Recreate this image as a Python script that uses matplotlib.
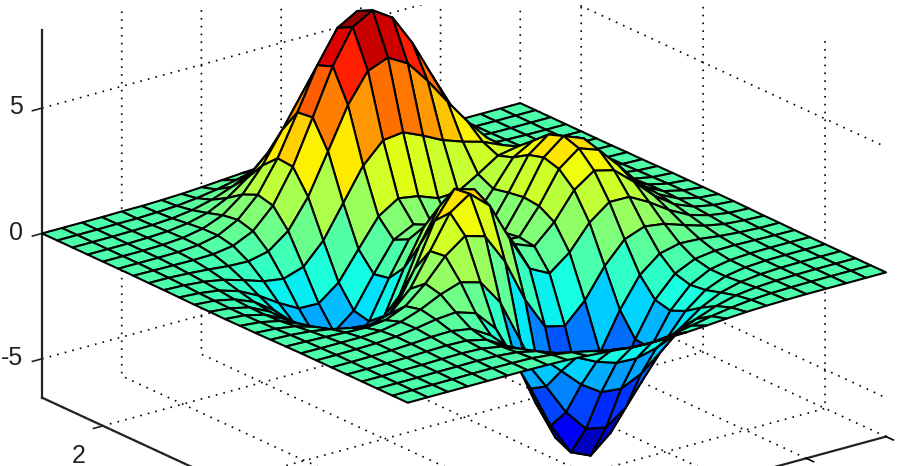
import matplotlib
matplotlib.use("Agg")
import numpy as np
import matplotlib.pyplot as plt
from matplotlib.patches import Rectangle

x_values = [-3, -2.75, -2.5, -2.25, -2, -1.75, -1.5, -1.25, -1, -0.75, -0.5, -0.25, 0,
            0.25, 0.5, 0.75, 1, 1.25, 1.5, 1.75, 2, 2.25, 2.5, 2.75, 3]
y_values = list(x_values)
x_ticks = [-3, -2, -1, 0, 1, 2, 3]
y_ticks = [-2, 0, 2]
z_ticks = [-5, 0, 5]
y_tick_labels = ["-2", "0", "2"]
z_tick_labels = ["-5", "0", "5"]
z_min, z_max = -6.55, 8.1
color_min, color_max = -6.3, 7.9

# one row per x value, one column per y value
heights = [
 [0,0,0,0,0,0,0,0,-.01,-.02,-.03,-.03,-.04,-.03,-.03,-.02,-.01,-.01,0,0,0,0,0,0,0],
 [0,0,0,0,0,0,0,-.01,-.03,-.05,-.08,-.10,-.11,-.11,-.09,-.07,-.04,-.02,-.01,0,0,0,0,0,0],
 [0,0,0,.01,.01,.01,.01,-.01,-.06,-.12,-.20,-.27,-.30,-.29,-.25,-.18,-.11,-.06,-.02,0,0,0,0,0,0],
 [0,0,.01,.01,.02,.03,.03,-.01,-.10,-.25,-.44,-.60,-.69,-.67,-.57,-.42,-.25,-.12,-.03,.01,.02,.02,.01,.01,0],
 [0,.01,.01,.03,.05,.07,.08,.03,-.13,-.42,-.80,-1.14,-1.33,-1.32,-1.12,-.82,-.48,-.20,-.01,.07,.08,.06,.03,.01,.01],
 [0,.01,.02,.04,.07,.13,.19,.17,-.04,-.51,-1.16,-1.78,-2.14,-2.16,-1.85,-1.33,-.74,-.23,.11,.24,.23,.16,.08,.04,.01],
 [0,0,0,.01,.05,.15,.33,.45,.30,-.28,-1.21,-2.16,-2.77,-2.87,-2.50,-1.76,-.86,-.05,.48,.65,.55,.36,.19,.08,.03],
 [-.01,-.02,-.07,-.12,-.13,.02,.40,.83,.98,.49,-.60,-1.83,-2.71,-2.98,-2.64,-1.78,-.60,.55,1.28,1.43,1.16,.74,.39,.17,.06],
 [-.03,-.10,-.24,-.44,-.59,-.46,.15,1.10,1.86,1.78,.80,-.56,-1.65,-2.15,-2.00,-1.16,.23,1.69,2.61,2.67,2.10,1.32,.69,.30,.11],
 [-.08,-.22,-.53,-.99,-1.45,-1.48,-.68,.88,2.45,3.09,2.49,1.23,.06,-.64,-.76,-.05,1.51,3.29,4.37,4.29,3.31,2.07,1.07,.47,.17],
 [-.14,-.39,-.92,-1.74,-2.64,-3.01,-2.18,-.14,2.22,3.63,3.55,2.56,1.48,.69,.39,1.04,2.79,4.92,6.19,5.96,4.56,2.84,1.47,.64,.23],
 [-.20,-.56,-1.31,-2.50,-3.88,-4.70,-4.07,-1.85,1.00,2.94,3.31,2.63,1.75,1.06,.79,1.55,3.59,6.07,7.54,7.22,5.51,3.43,1.78,.77,.28],
 [-.25,-.68,-1.57,-3.02,-4.76,-5.98,-5.68,-3.61,-.73,1.40,2.00,1.58,.98,.52,.46,1.42,3.69,6.39,7.99,7.68,5.86,3.65,1.89,.82,.30],
 [-.25,-.70,-1.61,-3.10,-4.93,-6.33,-6.32,-4.61,-2.02,0,.70,.53,.19,-.03,.09,1.12,3.34,5.94,7.48,7.20,5.50,3.43,1.77,.77,.28],
 [-.22,-.61,-1.41,-2.72,-4.35,-5.64,-5.76,-4.40,-2.22,-.41,.39,.48,.38,.28,.37,1.17,2.94,5.02,6.25,5.99,4.57,2.84,1.47,.64,.23],
 [-.17,-.46,-1.06,-2.05,-3.27,-4.24,-4.31,-3.23,-1.43,.21,1.14,1.50,1.57,1.47,1.34,1.65,2.66,3.97,4.72,4.45,3.37,2.09,1.08,.47,.17],
 [-.11,-.30,-.69,-1.32,-2.10,-2.69,-2.63,-1.74,-.27,1.18,2.20,2.76,2.94,2.76,2.38,2.17,2.44,2.97,3.25,2.96,2.21,1.36,.70,.30,.11],
 [-.06,-.17,-.39,-.74,-1.15,-1.42,-1.27,-.56,.58,1.79,2.76,3.37,3.58,3.36,2.83,2.32,2.09,2.09,2.05,1.78,1.29,.79,.40,.17,.06],
 [-.03,-.08,-.18,-.35,-.53,-.61,-.44,.08,.88,1.78,2.56,3.09,3.27,3.06,2.56,1.99,1.58,1.36,1.18,.96,.68,.40,.21,.09,.03],
 [-.01,-.03,-.08,-.14,-.20,-.20,-.07,.27,.77,1.35,1.88,2.25,2.37,2.22,1.85,1.40,1.04,.79,.62,.47,.32,.19,.09,.04,.01],
 [0,-.01,-.03,-.05,-.06,-.05,.04,.23,.50,.82,1.12,1.34,1.41,1.32,1.09,.82,.58,.41,.29,.21,.13,.08,.04,.02,.01],
 [0,0,-.01,-.01,-.01,0,.05,.13,.26,.41,.56,.67,.70,.66,.54,.40,.28,.19,.12,.08,.05,.03,.01,.01,0],
 [0,0,0,0,0,.01,.03,.06,.11,.18,.24,.28,.30,.28,.23,.17,.11,.07,.05,.03,.02,.01,0,0,0],
 [0,0,0,0,0,.01,.01,.02,.04,.06,.09,.10,.11,.10,.08,.06,.04,.03,.02,.01,.01,0,0,0,0],
 [0,0,0,0,0,0,0,.01,.01,.02,.03,.03,.03,.03,.03,.02,.01,.01,0,0,0,0,0,0,0],
]

plt.rcParams["font.family"] = ["Liberation Sans", "DejaVu Sans"]
plt.rcParams["grid.color"] = "black"
plt.rcParams["grid.linestyle"] = (0, (1, 3.7))
plt.rcParams["grid.linewidth"] = 1.2
plt.rcParams["axes.linewidth"] = 1.6
plt.rcParams["axes.edgecolor"] = "#222222"
plt.rcParams["xtick.major.width"] = 1.2
plt.rcParams["ytick.major.width"] = 1.2

FW, FH = 902, 466
fig = plt.figure(figsize=(FW / 100, FH / 100), dpi=100, facecolor="white")
W = 910
cx, cy = 464, 232.5
ax = fig.add_axes([(cx - 0.5135 * W) / FW, (cy - 0.5135 * W) / FH, W / FW, W / FH],
                  projection="3d", proj_type="ortho")
ax.view_init(elev=20.8, azim=-127.5)
ax.set_box_aspect((603, 601, 393))
ax.patch.set_alpha(0)

X, Y = np.meshgrid(x_values, y_values, indexing="ij")
Z = np.array(heights)
ax.plot_surface(X, Y, Z, cmap="jet", vmin=color_min, vmax=color_max, rstride=1, cstride=1,
                edgecolor="black", linewidth=1.5, shade=False, antialiased=True)

ax.set_xlim(-3, 3, view_margin=0)
ax.set_ylim(-3, 3, view_margin=0)
ax.set_zlim(z_min, z_max, view_margin=0)
ax.set_xticks(x_ticks)
ax.set_yticks(y_ticks)
ax.set_zticks(z_ticks)
ax.set_xticklabels([])
ax.set_yticklabels(y_tick_labels, ha="right", fontsize=18)
ax.set_zticklabels(z_tick_labels, ha="right", va="center", fontsize=18)
ax.tick_params(axis="y", pad=4.5, colors="#222222")
ax.tick_params(axis="z", pad=-0.3, colors="#222222")
for axis in (ax.xaxis, ax.yaxis, ax.zaxis):
    axis.set_pane_color((1, 1, 1, 1))
    axis.pane.set_edgecolor("white")
    axis._axinfo["tick"]["inward_factor"] = 0.25
    axis._axinfo["tick"]["outward_factor"] = 0.0

fig.add_artist(Rectangle((0, 1 - 5 / FH), 1, 5 / FH, transform=fig.transFigure,
                         facecolor="white", edgecolor="none", zorder=10))
fig.savefig("out.png", dpi=100, facecolor="white")
